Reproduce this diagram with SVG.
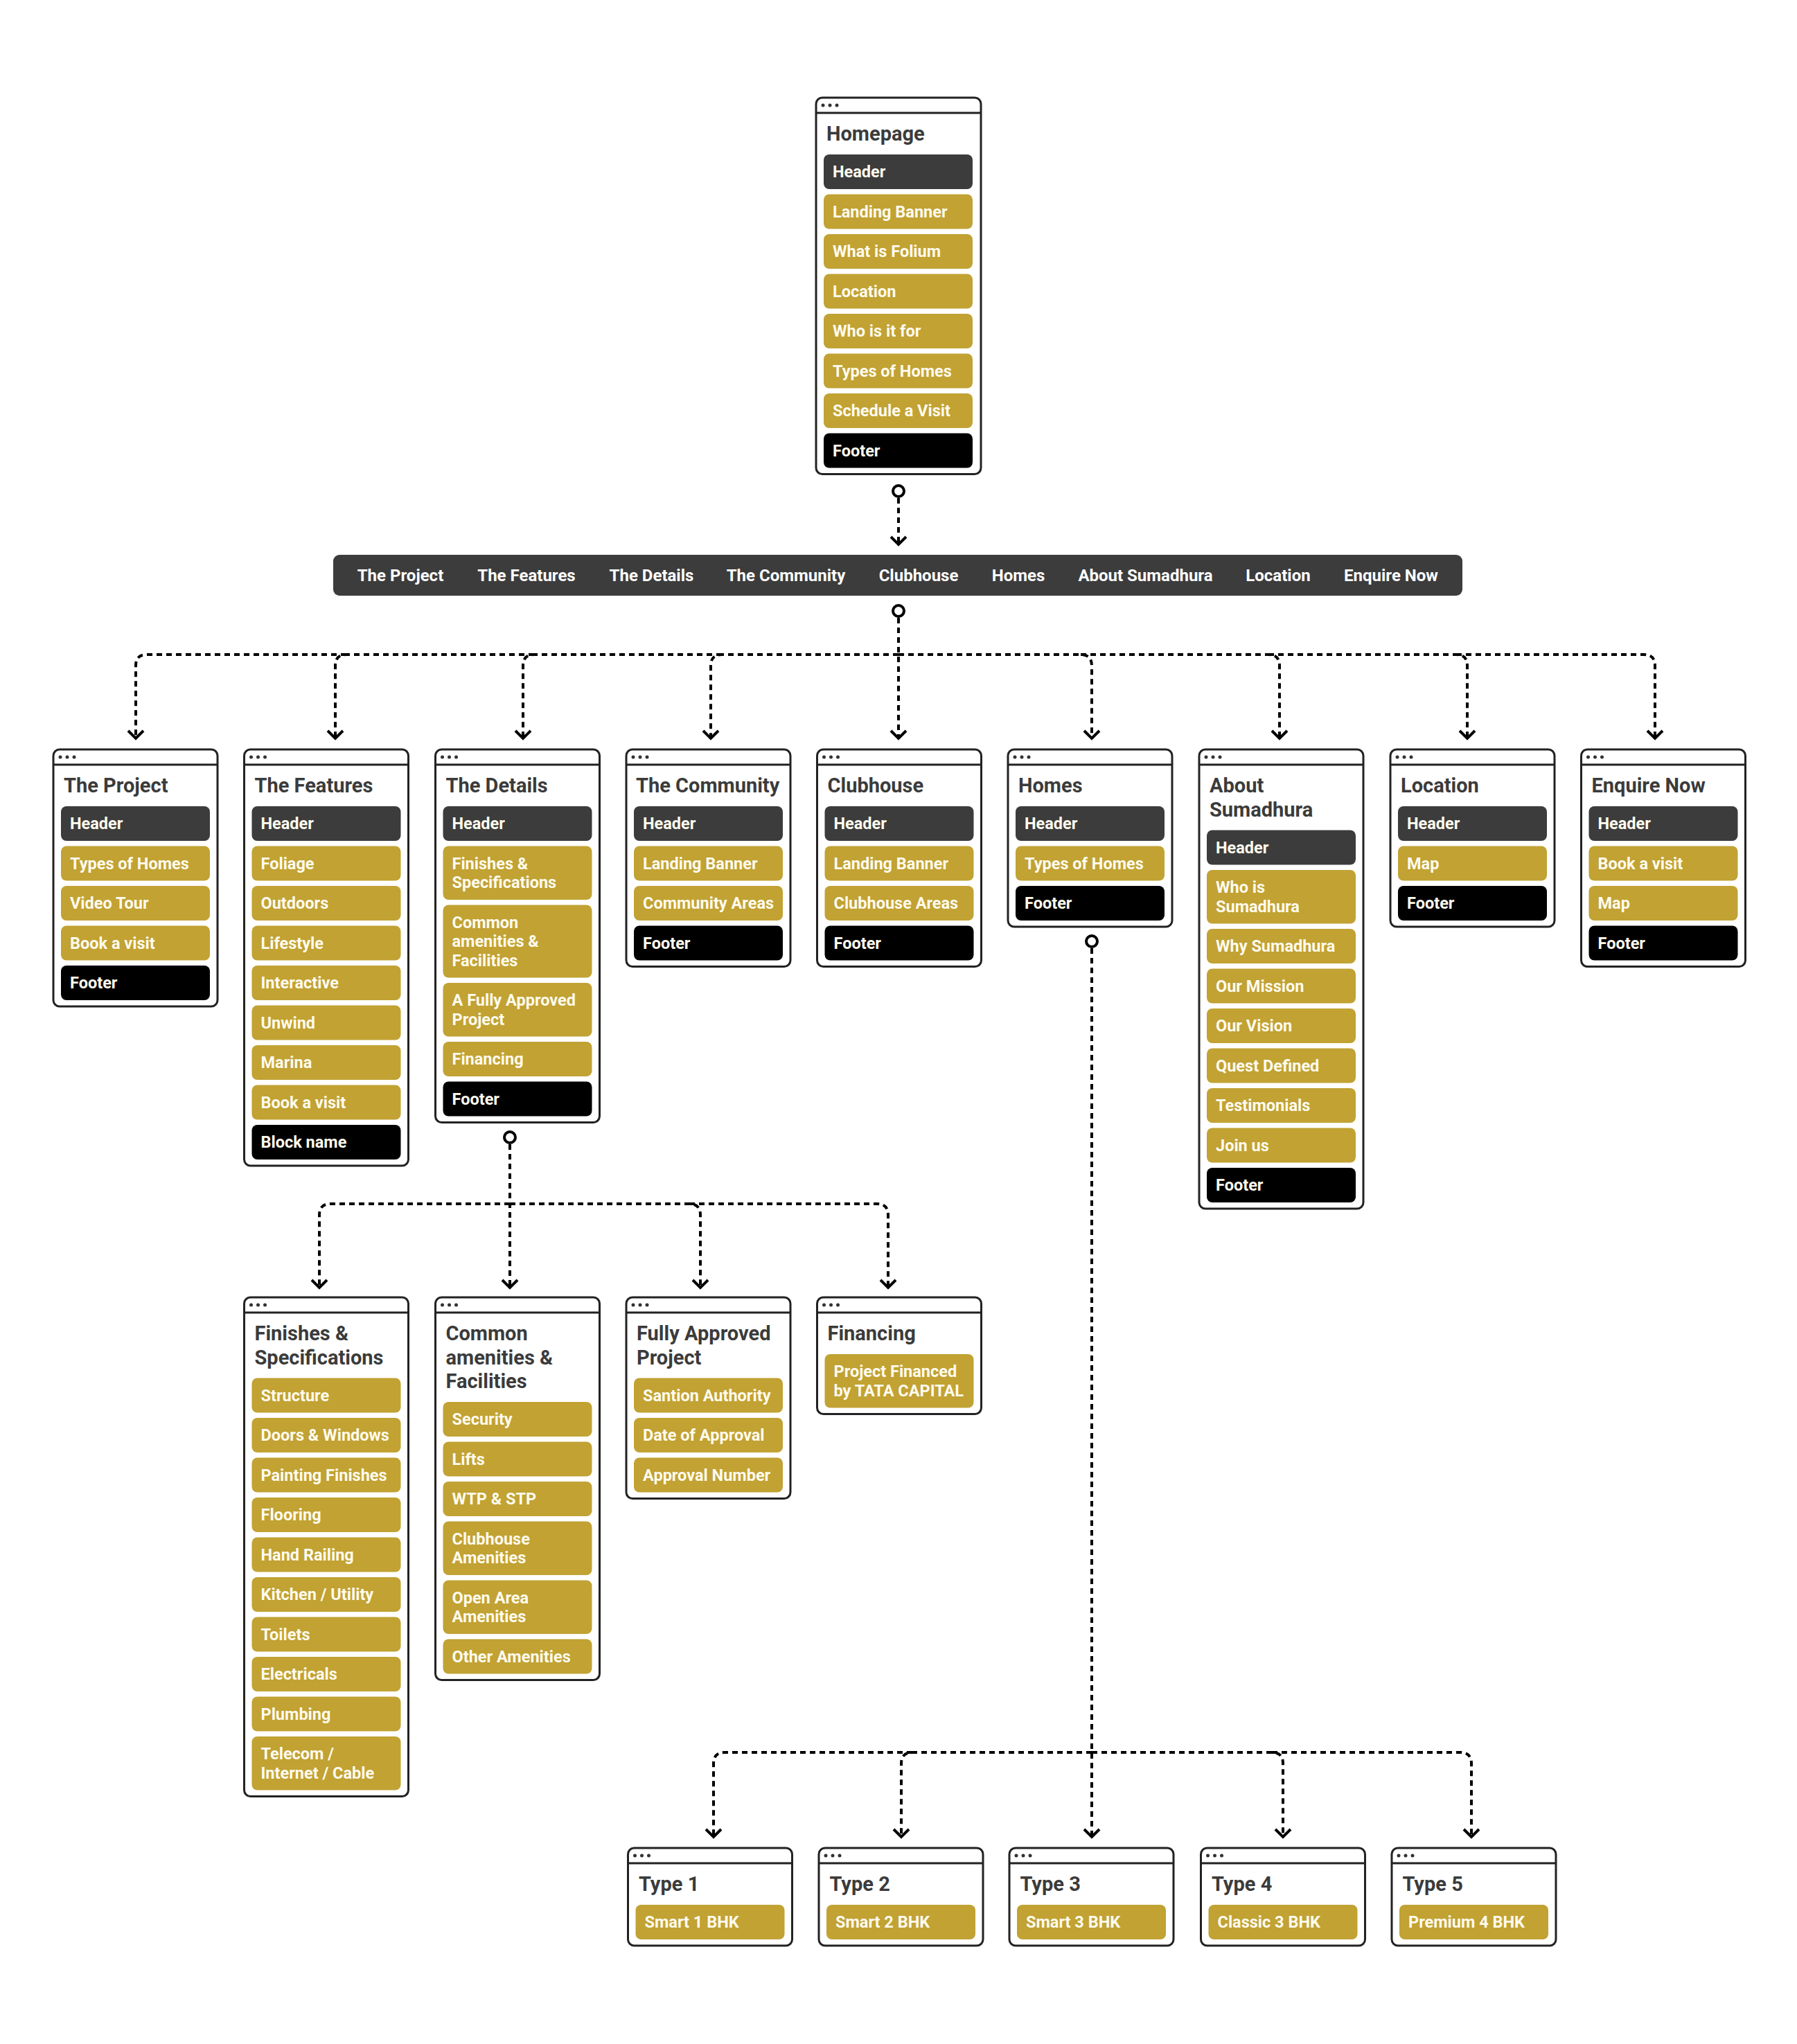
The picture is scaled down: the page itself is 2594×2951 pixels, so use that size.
<svg xmlns="http://www.w3.org/2000/svg" width="2594" height="2951" viewBox="0 0 2594 2951">
<defs>
<style>
.box{fill:#fff;stroke:#222;stroke-width:3}
.bar{stroke:#222;stroke-width:3}
.dot{fill:#333}
.title{font-family:Roboto,"Liberation Sans",sans-serif;font-size:29px;font-weight:700;fill:#3b3b3b}
.it{font-family:Roboto,"Liberation Sans",sans-serif;font-size:23.5px;font-weight:700;fill:#fffbee}
.nav{font-family:Roboto,"Liberation Sans",sans-serif;font-size:24px;font-weight:700;fill:#fff;text-anchor:middle}
.gold{fill:#c1a233}
.hdr{fill:#3c3c3c}
.ftr{fill:#000}
.conn{fill:none;stroke:#000;stroke-width:4;stroke-dasharray:8 6}
.arr{marker-end:url(#chev)}
.port{fill:#fff;stroke:#000;stroke-width:4}
</style>
<marker id="chev" markerUnits="userSpaceOnUse" markerWidth="40" markerHeight="40" viewBox="-20 -20 40 40" refX="0" refY="0" orient="auto" overflow="visible">
<path d="M -11 -11 L 0 0 L -11 11" fill="none" stroke="#000" stroke-width="4" stroke-dasharray="none"/>
</marker>
</defs>
<rect width="2594" height="2951" fill="#fff"/>

<g id="connectors">
<circle class="port" cx="1297" cy="709" r="8"/>
<path class="conn arr" d="M1297 719 V786"/>
<circle class="port" cx="1297" cy="882" r="8"/>
<path class="conn arr" d="M1297 892 V1066"/>
<path class="conn arr" d="M1297 945 H1042 Q1026 945 1026 961 V1066"/>
<path class="conn arr" d="M1042 945 H771 Q755 945 755 961 V1066"/>
<path class="conn arr" d="M771 945 H500 Q484 945 484 961 V1066"/>
<path class="conn arr" d="M500 945 H212 Q196 945 196 961 V1066"/>
<path class="conn arr" d="M1297 945 H1560 Q1576 945 1576 961 V1066"/>
<path class="conn arr" d="M1560 945 H1831 Q1847 945 1847 961 V1066"/>
<path class="conn arr" d="M1831 945 H2102 Q2118 945 2118 961 V1066"/>
<path class="conn arr" d="M2102 945 H2373 Q2389 945 2389 961 V1066"/>
<circle class="port" cx="736" cy="1642" r="8"/>
<path class="conn arr" d="M736 1652 V1859"/>
<path class="conn arr" d="M736 1738 H477 Q461 1738 461 1754 V1859"/>
<path class="conn arr" d="M736 1738 H995 Q1011 1738 1011 1754 V1859"/>
<path class="conn arr" d="M995 1738 H1266 Q1282 1738 1282 1754 V1859"/>
<circle class="port" cx="1576" cy="1359" r="8"/>
<path class="conn arr" d="M1576 1369 V2652"/>
<path class="conn arr" d="M1576 2530 H1317 Q1301 2530 1301 2546 V2652"/>
<path class="conn arr" d="M1317 2530 H1046 Q1030 2530 1030 2546 V2652"/>
<path class="conn arr" d="M1576 2530 H1836 Q1852 2530 1852 2546 V2652"/>
<path class="conn arr" d="M1836 2530 H2108 Q2124 2530 2124 2546 V2652"/>
</g>

<g id="homepage">
<rect class="box" x="1178" y="141" width="238" height="543.5" rx="9"/>
<line class="bar" x1="1178" y1="163" x2="1416" y2="163"/>
<circle class="dot" cx="1188" cy="152" r="2.5"/><circle class="dot" cx="1198" cy="152" r="2.5"/><circle class="dot" cx="1208" cy="152" r="2.5"/>
<text class="title" x="1193" y="203">Homepage</text>
<rect class="hdr" x="1189" y="223" width="215" height="50" rx="8"/><text class="it" x="1202" y="256">Header</text>
<rect class="gold" x="1189" y="280.5" width="215" height="50" rx="8"/><text class="it" x="1202" y="313.5">Landing Banner</text>
<rect class="gold" x="1189" y="338" width="215" height="50" rx="8"/><text class="it" x="1202" y="371">What is Folium</text>
<rect class="gold" x="1189" y="395.5" width="215" height="50" rx="8"/><text class="it" x="1202" y="428.5">Location</text>
<rect class="gold" x="1189" y="453" width="215" height="50" rx="8"/><text class="it" x="1202" y="486">Who is it for</text>
<rect class="gold" x="1189" y="510.5" width="215" height="50" rx="8"/><text class="it" x="1202" y="543.5">Types of Homes</text>
<rect class="gold" x="1189" y="568" width="215" height="50" rx="8"/><text class="it" x="1202" y="601">Schedule a Visit</text>
<rect class="ftr" x="1189" y="625.5" width="215" height="50" rx="8"/><text class="it" x="1202" y="658.5">Footer</text>
</g>

<g id="nav">
<rect x="481" y="801" width="1630" height="59" rx="9" fill="#3c3c3c"/>
<text class="nav" x="578" y="839">The Project</text>
<text class="nav" x="760" y="839">The Features</text>
<text class="nav" x="940.5" y="839">The Details</text>
<text class="nav" x="1134.5" y="839">The Community</text>
<text class="nav" x="1326" y="839">Clubhouse</text>
<text class="nav" x="1470" y="839">Homes</text>
<text class="nav" x="1653.5" y="839">About Sumadhura</text>
<text class="nav" x="1845" y="839">Location</text>
<text class="nav" x="2008" y="839">Enquire Now</text>
</g>

<g id="the-project">
<rect class="box" x="77" y="1082" width="237" height="371" rx="9"/>
<line class="bar" x1="77" y1="1104" x2="314" y2="1104"/>
<circle class="dot" cx="87" cy="1093" r="2.5"/><circle class="dot" cx="97" cy="1093" r="2.5"/><circle class="dot" cx="107" cy="1093" r="2.5"/>
<text class="title" x="92" y="1144">The Project</text>
<rect class="hdr" x="88" y="1164" width="215" height="50" rx="8"/><text class="it" x="101" y="1197">Header</text>
<rect class="gold" x="88" y="1221.5" width="215" height="50" rx="8"/><text class="it" x="101" y="1254.5">Types of Homes</text>
<rect class="gold" x="88" y="1279" width="215" height="50" rx="8"/><text class="it" x="101" y="1312">Video Tour</text>
<rect class="gold" x="88" y="1336.5" width="215" height="50" rx="8"/><text class="it" x="101" y="1369.5">Book a visit</text>
<rect class="ftr" x="88" y="1394" width="215" height="50" rx="8"/><text class="it" x="101" y="1427">Footer</text>
</g>

<g id="the-features">
<rect class="box" x="352.5" y="1082" width="237" height="601" rx="9"/>
<line class="bar" x1="352.5" y1="1104" x2="589.5" y2="1104"/>
<circle class="dot" cx="362.5" cy="1093" r="2.5"/><circle class="dot" cx="372.5" cy="1093" r="2.5"/><circle class="dot" cx="382.5" cy="1093" r="2.5"/>
<text class="title" x="367.5" y="1144">The Features</text>
<rect class="hdr" x="363.5" y="1164" width="215" height="50" rx="8"/><text class="it" x="376.5" y="1197">Header</text>
<rect class="gold" x="363.5" y="1221.5" width="215" height="50" rx="8"/><text class="it" x="376.5" y="1254.5">Foliage</text>
<rect class="gold" x="363.5" y="1279" width="215" height="50" rx="8"/><text class="it" x="376.5" y="1312">Outdoors</text>
<rect class="gold" x="363.5" y="1336.5" width="215" height="50" rx="8"/><text class="it" x="376.5" y="1369.5">Lifestyle</text>
<rect class="gold" x="363.5" y="1394" width="215" height="50" rx="8"/><text class="it" x="376.5" y="1427">Interactive</text>
<rect class="gold" x="363.5" y="1451.5" width="215" height="50" rx="8"/><text class="it" x="376.5" y="1484.5">Unwind</text>
<rect class="gold" x="363.5" y="1509" width="215" height="50" rx="8"/><text class="it" x="376.5" y="1542">Marina</text>
<rect class="gold" x="363.5" y="1566.5" width="215" height="50" rx="8"/><text class="it" x="376.5" y="1599.5">Book a visit</text>
<rect class="ftr" x="363.5" y="1624" width="215" height="50" rx="8"/><text class="it" x="376.5" y="1657">Block name</text>
</g>

<g id="the-details">
<rect class="box" x="628.5" y="1082" width="237" height="538.5" rx="9"/>
<line class="bar" x1="628.5" y1="1104" x2="865.5" y2="1104"/>
<circle class="dot" cx="638.5" cy="1093" r="2.5"/><circle class="dot" cx="648.5" cy="1093" r="2.5"/><circle class="dot" cx="658.5" cy="1093" r="2.5"/>
<text class="title" x="643.5" y="1144">The Details</text>
<rect class="hdr" x="639.5" y="1164" width="215" height="50" rx="8"/><text class="it" x="652.5" y="1197">Header</text>
<rect class="gold" x="639.5" y="1221.5" width="215" height="77.5" rx="8"/><text class="it" x="652.5" y="1254.5">Finishes &amp;</text><text class="it" x="652.5" y="1282">Specifications</text>
<rect class="gold" x="639.5" y="1306.5" width="215" height="105" rx="8"/><text class="it" x="652.5" y="1339.5">Common</text><text class="it" x="652.5" y="1367">amenities &amp;</text><text class="it" x="652.5" y="1394.5">Facilities</text>
<rect class="gold" x="639.5" y="1419" width="215" height="77.5" rx="8"/><text class="it" x="652.5" y="1452">A Fully Approved</text><text class="it" x="652.5" y="1479.5">Project</text>
<rect class="gold" x="639.5" y="1504" width="215" height="50" rx="8"/><text class="it" x="652.5" y="1537">Financing</text>
<rect class="ftr" x="639.5" y="1561.5" width="215" height="50" rx="8"/><text class="it" x="652.5" y="1594.5">Footer</text>
</g>

<g id="the-community">
<rect class="box" x="904" y="1082" width="237" height="313.5" rx="9"/>
<line class="bar" x1="904" y1="1104" x2="1141" y2="1104"/>
<circle class="dot" cx="914" cy="1093" r="2.5"/><circle class="dot" cx="924" cy="1093" r="2.5"/><circle class="dot" cx="934" cy="1093" r="2.5"/>
<text class="title" x="918" y="1144">The Community</text>
<rect class="hdr" x="915" y="1164" width="215" height="50" rx="8"/><text class="it" x="928" y="1197">Header</text>
<rect class="gold" x="915" y="1221.5" width="215" height="50" rx="8"/><text class="it" x="928" y="1254.5">Landing Banner</text>
<rect class="gold" x="915" y="1279" width="215" height="50" rx="8"/><text class="it" x="928" y="1312">Community Areas</text>
<rect class="ftr" x="915" y="1336.5" width="215" height="50" rx="8"/><text class="it" x="928" y="1369.5">Footer</text>
</g>

<g id="clubhouse">
<rect class="box" x="1179.5" y="1082" width="237" height="313.5" rx="9"/>
<line class="bar" x1="1179.5" y1="1104" x2="1416.5" y2="1104"/>
<circle class="dot" cx="1189.5" cy="1093" r="2.5"/><circle class="dot" cx="1199.5" cy="1093" r="2.5"/><circle class="dot" cx="1209.5" cy="1093" r="2.5"/>
<text class="title" x="1194.5" y="1144">Clubhouse</text>
<rect class="hdr" x="1190.5" y="1164" width="215" height="50" rx="8"/><text class="it" x="1203.5" y="1197">Header</text>
<rect class="gold" x="1190.5" y="1221.5" width="215" height="50" rx="8"/><text class="it" x="1203.5" y="1254.5">Landing Banner</text>
<rect class="gold" x="1190.5" y="1279" width="215" height="50" rx="8"/><text class="it" x="1203.5" y="1312">Clubhouse Areas</text>
<rect class="ftr" x="1190.5" y="1336.5" width="215" height="50" rx="8"/><text class="it" x="1203.5" y="1369.5">Footer</text>
</g>

<g id="homes">
<rect class="box" x="1455" y="1082" width="237" height="256" rx="9"/>
<line class="bar" x1="1455" y1="1104" x2="1692" y2="1104"/>
<circle class="dot" cx="1465" cy="1093" r="2.5"/><circle class="dot" cx="1475" cy="1093" r="2.5"/><circle class="dot" cx="1485" cy="1093" r="2.5"/>
<text class="title" x="1470" y="1144">Homes</text>
<rect class="hdr" x="1466" y="1164" width="215" height="50" rx="8"/><text class="it" x="1479" y="1197">Header</text>
<rect class="gold" x="1466" y="1221.5" width="215" height="50" rx="8"/><text class="it" x="1479" y="1254.5">Types of Homes</text>
<rect class="ftr" x="1466" y="1279" width="215" height="50" rx="8"/><text class="it" x="1479" y="1312">Footer</text>
</g>

<g id="about-sumadhura">
<rect class="box" x="1731" y="1082" width="237" height="663" rx="9"/>
<line class="bar" x1="1731" y1="1104" x2="1968" y2="1104"/>
<circle class="dot" cx="1741" cy="1093" r="2.5"/><circle class="dot" cx="1751" cy="1093" r="2.5"/><circle class="dot" cx="1761" cy="1093" r="2.5"/>
<text class="title" x="1746" y="1144">About</text><text class="title" x="1746" y="1178.5">Sumadhura</text>
<rect class="hdr" x="1742" y="1198.5" width="215" height="50" rx="8"/><text class="it" x="1755" y="1231.5">Header</text>
<rect class="gold" x="1742" y="1256" width="215" height="77.5" rx="8"/><text class="it" x="1755" y="1289">Who is</text><text class="it" x="1755" y="1316.5">Sumadhura</text>
<rect class="gold" x="1742" y="1341" width="215" height="50" rx="8"/><text class="it" x="1755" y="1374">Why Sumadhura</text>
<rect class="gold" x="1742" y="1398.5" width="215" height="50" rx="8"/><text class="it" x="1755" y="1431.5">Our Mission</text>
<rect class="gold" x="1742" y="1456" width="215" height="50" rx="8"/><text class="it" x="1755" y="1489">Our Vision</text>
<rect class="gold" x="1742" y="1513.5" width="215" height="50" rx="8"/><text class="it" x="1755" y="1546.5">Quest Defined</text>
<rect class="gold" x="1742" y="1571" width="215" height="50" rx="8"/><text class="it" x="1755" y="1604">Testimonials</text>
<rect class="gold" x="1742" y="1628.5" width="215" height="50" rx="8"/><text class="it" x="1755" y="1661.5">Join us</text>
<rect class="ftr" x="1742" y="1686" width="215" height="50" rx="8"/><text class="it" x="1755" y="1719">Footer</text>
</g>

<g id="location">
<rect class="box" x="2007" y="1082" width="237" height="256" rx="9"/>
<line class="bar" x1="2007" y1="1104" x2="2244" y2="1104"/>
<circle class="dot" cx="2017" cy="1093" r="2.5"/><circle class="dot" cx="2027" cy="1093" r="2.5"/><circle class="dot" cx="2037" cy="1093" r="2.5"/>
<text class="title" x="2022" y="1144">Location</text>
<rect class="hdr" x="2018" y="1164" width="215" height="50" rx="8"/><text class="it" x="2031" y="1197">Header</text>
<rect class="gold" x="2018" y="1221.5" width="215" height="50" rx="8"/><text class="it" x="2031" y="1254.5">Map</text>
<rect class="ftr" x="2018" y="1279" width="215" height="50" rx="8"/><text class="it" x="2031" y="1312">Footer</text>
</g>

<g id="enquire-now">
<rect class="box" x="2282.5" y="1082" width="237" height="313.5" rx="9"/>
<line class="bar" x1="2282.5" y1="1104" x2="2519.5" y2="1104"/>
<circle class="dot" cx="2292.5" cy="1093" r="2.5"/><circle class="dot" cx="2302.5" cy="1093" r="2.5"/><circle class="dot" cx="2312.5" cy="1093" r="2.5"/>
<text class="title" x="2297.5" y="1144">Enquire Now</text>
<rect class="hdr" x="2293.5" y="1164" width="215" height="50" rx="8"/><text class="it" x="2306.5" y="1197">Header</text>
<rect class="gold" x="2293.5" y="1221.5" width="215" height="50" rx="8"/><text class="it" x="2306.5" y="1254.5">Book a visit</text>
<rect class="gold" x="2293.5" y="1279" width="215" height="50" rx="8"/><text class="it" x="2306.5" y="1312">Map</text>
<rect class="ftr" x="2293.5" y="1336.5" width="215" height="50" rx="8"/><text class="it" x="2306.5" y="1369.5">Footer</text>
</g>

<g id="finishes-specifications">
<rect class="box" x="352.5" y="1873" width="237" height="720.5" rx="9"/>
<line class="bar" x1="352.5" y1="1895" x2="589.5" y2="1895"/>
<circle class="dot" cx="362.5" cy="1884" r="2.5"/><circle class="dot" cx="372.5" cy="1884" r="2.5"/><circle class="dot" cx="382.5" cy="1884" r="2.5"/>
<text class="title" x="367.5" y="1935">Finishes &amp;</text><text class="title" x="367.5" y="1969.5">Specifications</text>
<rect class="gold" x="363.5" y="1989.5" width="215" height="50" rx="8"/><text class="it" x="376.5" y="2022.5">Structure</text>
<rect class="gold" x="363.5" y="2047" width="215" height="50" rx="8"/><text class="it" x="376.5" y="2080">Doors &amp; Windows</text>
<rect class="gold" x="363.5" y="2104.5" width="215" height="50" rx="8"/><text class="it" x="376.5" y="2137.5">Painting Finishes</text>
<rect class="gold" x="363.5" y="2162" width="215" height="50" rx="8"/><text class="it" x="376.5" y="2195">Flooring</text>
<rect class="gold" x="363.5" y="2219.5" width="215" height="50" rx="8"/><text class="it" x="376.5" y="2252.5">Hand Railing</text>
<rect class="gold" x="363.5" y="2277" width="215" height="50" rx="8"/><text class="it" x="376.5" y="2310">Kitchen / Utility</text>
<rect class="gold" x="363.5" y="2334.5" width="215" height="50" rx="8"/><text class="it" x="376.5" y="2367.5">Toilets</text>
<rect class="gold" x="363.5" y="2392" width="215" height="50" rx="8"/><text class="it" x="376.5" y="2425">Electricals</text>
<rect class="gold" x="363.5" y="2449.5" width="215" height="50" rx="8"/><text class="it" x="376.5" y="2482.5">Plumbing</text>
<rect class="gold" x="363.5" y="2507" width="215" height="77.5" rx="8"/><text class="it" x="376.5" y="2540">Telecom /</text><text class="it" x="376.5" y="2567.5">Internet / Cable</text>
</g>

<g id="common-amenities">
<rect class="box" x="628.5" y="1873" width="237" height="552.5" rx="9"/>
<line class="bar" x1="628.5" y1="1895" x2="865.5" y2="1895"/>
<circle class="dot" cx="638.5" cy="1884" r="2.5"/><circle class="dot" cx="648.5" cy="1884" r="2.5"/><circle class="dot" cx="658.5" cy="1884" r="2.5"/>
<text class="title" x="643.5" y="1935">Common</text><text class="title" x="643.5" y="1969.5">amenities &amp;</text><text class="title" x="643.5" y="2004">Facilities</text>
<rect class="gold" x="639.5" y="2024" width="215" height="50" rx="8"/><text class="it" x="652.5" y="2057">Security</text>
<rect class="gold" x="639.5" y="2081.5" width="215" height="50" rx="8"/><text class="it" x="652.5" y="2114.5">Lifts</text>
<rect class="gold" x="639.5" y="2139" width="215" height="50" rx="8"/><text class="it" x="652.5" y="2172">WTP &amp; STP</text>
<rect class="gold" x="639.5" y="2196.5" width="215" height="77.5" rx="8"/><text class="it" x="652.5" y="2229.5">Clubhouse</text><text class="it" x="652.5" y="2257">Amenities</text>
<rect class="gold" x="639.5" y="2281.5" width="215" height="77.5" rx="8"/><text class="it" x="652.5" y="2314.5">Open Area</text><text class="it" x="652.5" y="2342">Amenities</text>
<rect class="gold" x="639.5" y="2366.5" width="215" height="50" rx="8"/><text class="it" x="652.5" y="2399.5">Other Amenities</text>
</g>

<g id="fully-approved-project">
<rect class="box" x="904" y="1873" width="237" height="290.5" rx="9"/>
<line class="bar" x1="904" y1="1895" x2="1141" y2="1895"/>
<circle class="dot" cx="914" cy="1884" r="2.5"/><circle class="dot" cx="924" cy="1884" r="2.5"/><circle class="dot" cx="934" cy="1884" r="2.5"/>
<text class="title" x="919" y="1935">Fully Approved</text><text class="title" x="919" y="1969.5">Project</text>
<rect class="gold" x="915" y="1989.5" width="215" height="50" rx="8"/><text class="it" x="928" y="2022.5">Santion Authority</text>
<rect class="gold" x="915" y="2047" width="215" height="50" rx="8"/><text class="it" x="928" y="2080">Date of Approval</text>
<rect class="gold" x="915" y="2104.5" width="215" height="50" rx="8"/><text class="it" x="928" y="2137.5">Approval Number</text>
</g>

<g id="financing">
<rect class="box" x="1179.5" y="1873" width="237" height="168.5" rx="9"/>
<line class="bar" x1="1179.5" y1="1895" x2="1416.5" y2="1895"/>
<circle class="dot" cx="1189.5" cy="1884" r="2.5"/><circle class="dot" cx="1199.5" cy="1884" r="2.5"/><circle class="dot" cx="1209.5" cy="1884" r="2.5"/>
<text class="title" x="1194.5" y="1935">Financing</text>
<rect class="gold" x="1190.5" y="1955" width="215" height="77.5" rx="8"/><text class="it" x="1203.5" y="1988">Project Financed</text><text class="it" x="1203.5" y="2015.5">by TATA CAPITAL</text>
</g>

<g id="type-1">
<rect class="box" x="906.5" y="2668" width="237" height="141" rx="9"/>
<line class="bar" x1="906.5" y1="2690" x2="1143.5" y2="2690"/>
<circle class="dot" cx="916.5" cy="2679" r="2.5"/><circle class="dot" cx="926.5" cy="2679" r="2.5"/><circle class="dot" cx="936.5" cy="2679" r="2.5"/>
<text class="title" x="922" y="2730">Type 1</text>
<rect class="gold" x="917.5" y="2750" width="215" height="50" rx="8"/><text class="it" x="930.5" y="2783">Smart 1 BHK</text>
</g>
<g id="type-2">
<rect class="box" x="1182" y="2668" width="237" height="141" rx="9"/>
<line class="bar" x1="1182" y1="2690" x2="1419" y2="2690"/>
<circle class="dot" cx="1192" cy="2679" r="2.5"/><circle class="dot" cx="1202" cy="2679" r="2.5"/><circle class="dot" cx="1212" cy="2679" r="2.5"/>
<text class="title" x="1197.5" y="2730">Type 2</text>
<rect class="gold" x="1193" y="2750" width="215" height="50" rx="8"/><text class="it" x="1206" y="2783">Smart 2 BHK</text>
</g>
<g id="type-3">
<rect class="box" x="1457" y="2668" width="237" height="141" rx="9"/>
<line class="bar" x1="1457" y1="2690" x2="1694" y2="2690"/>
<circle class="dot" cx="1467" cy="2679" r="2.5"/><circle class="dot" cx="1477" cy="2679" r="2.5"/><circle class="dot" cx="1487" cy="2679" r="2.5"/>
<text class="title" x="1472.5" y="2730">Type 3</text>
<rect class="gold" x="1468" y="2750" width="215" height="50" rx="8"/><text class="it" x="1481" y="2783">Smart 3 BHK</text>
</g>
<g id="type-4">
<rect class="box" x="1733.5" y="2668" width="237" height="141" rx="9"/>
<line class="bar" x1="1733.5" y1="2690" x2="1970.5" y2="2690"/>
<circle class="dot" cx="1743.5" cy="2679" r="2.5"/><circle class="dot" cx="1753.5" cy="2679" r="2.5"/><circle class="dot" cx="1763.5" cy="2679" r="2.5"/>
<text class="title" x="1749" y="2730">Type 4</text>
<rect class="gold" x="1744.5" y="2750" width="215" height="50" rx="8"/><text class="it" x="1757.5" y="2783">Classic 3 BHK</text>
</g>
<g id="type-5">
<rect class="box" x="2009" y="2668" width="237" height="141" rx="9"/>
<line class="bar" x1="2009" y1="2690" x2="2246" y2="2690"/>
<circle class="dot" cx="2019" cy="2679" r="2.5"/><circle class="dot" cx="2029" cy="2679" r="2.5"/><circle class="dot" cx="2039" cy="2679" r="2.5"/>
<text class="title" x="2024.5" y="2730">Type 5</text>
<rect class="gold" x="2020" y="2750" width="215" height="50" rx="8"/><text class="it" x="2033" y="2783">Premium 4 BHK</text>
</g>
</svg>
